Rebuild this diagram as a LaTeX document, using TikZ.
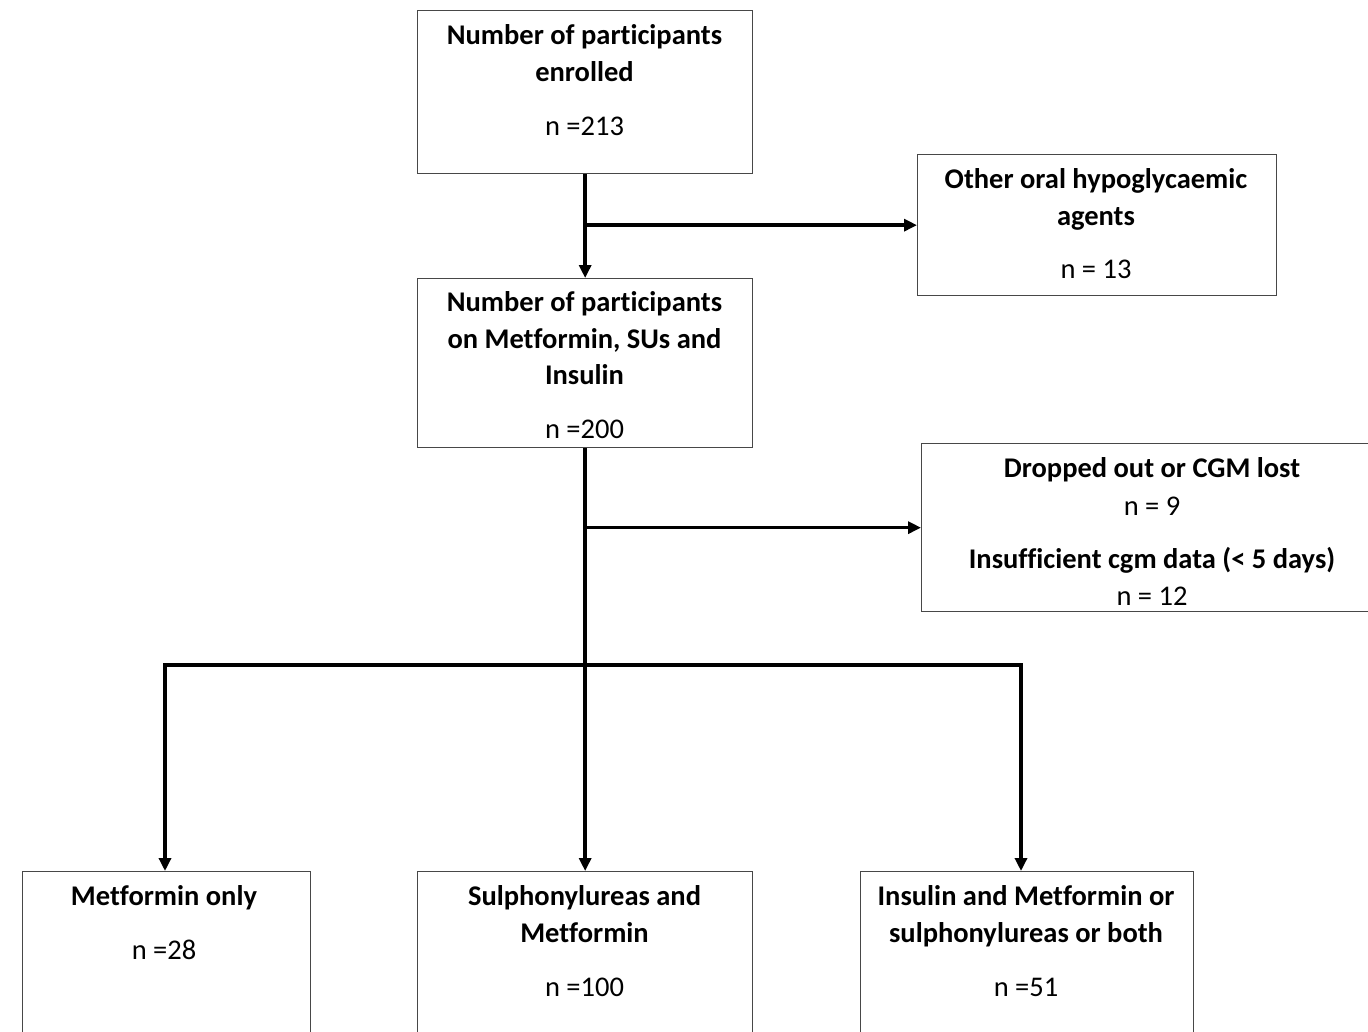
\documentclass[tikz,border=0pt]{standalone}
\usepackage{fontspec}
\setmainfont{Carlito}[RawFeature=-liga]
\usetikzlibrary{arrows.meta}
\begin{document}
\begin{tikzpicture}[x=1pt,y=-1pt,
  box/.style={draw=black!72,line width=1.3pt,rectangle,inner sep=0pt,anchor=north west},
  hd/.style={anchor=base,inner sep=0pt,font=\fontsize{28.5}{34}\selectfont\bfseries},
  nn/.style={anchor=base,inner sep=0pt,font=\fontsize{28.5}{34}\selectfont},
  conn/.style={line width=3.6pt,-{Triangle[length=13pt,width=12pt]}},
  seg/.style={line width=3.6pt}]
\useasboundingbox (0,0) rectangle (1368,1031);
\clip (0,0) rectangle (1368,1031);
\fill[white] (0,0) rectangle (1368,1031);
% boxes
\node[box,minimum width=335pt,minimum height=163pt] (b1) at (417,10) {};
\node[box,minimum width=359pt,minimum height=141pt] (b2) at (917,154) {};
\node[box,minimum width=335pt,minimum height=169pt] (b3) at (417,278) {};
\node[box,minimum width=470pt,minimum height=168pt] (b4) at (921,443) {};
\node[box,minimum width=288pt,minimum height=220pt] (b5) at (22,871) {};
\node[box,minimum width=335pt,minimum height=220pt] (b6) at (417,871) {};
\node[box,minimum width=333pt,minimum height=220pt] (b7) at (860,871) {};
% texts
\node[hd] (t1a) at (584.5,44) {Number of participants};
\node[hd] (t1b) at (584.5,81) {enrolled};
\node[nn] (t1c) at (584.5,135) {n =213};
\node[hd] (t2a) at (1096,188) {Other oral hypoglycaemic};
\node[hd] (t2b) at (1096,225) {agents};
\node[nn] (t2c) at (1096,278) {n = 13};
\node[hd] (t3a) at (584.5,311) {Number of participants};
\node[hd] (t3b) at (584.5,348) {on Metformin, SUs and};
\node[hd] (t3c) at (584.5,384) {Insulin};
\node[nn] (t3d) at (584.5,438) {n =200};
\node[hd] (t4a) at (1152,477) {Dropped out or CGM lost};
\node[nn] (t4b) at (1152,515) {n = 9};
\node[hd] (t4c) at (1152,568) {Insufficient cgm data (< 5 days)};
\node[nn] (t4d) at (1152,605) {n = 12};
\node[hd] (t5a) at (164,905) {Metformin only};
\node[nn] (t5b) at (164,959) {n =28};
\node[hd] (t6a) at (584.5,905) {Sulphonylureas and};
\node[hd] (t6b) at (584.5,942) {Metformin};
\node[nn] (t6c) at (584.5,996) {n =100};
\node[hd] (t7a) at (1026,905) {Insulin and Metformin or};
\node[hd] (t7b) at (1026,942) {sulphonylureas or both};
\node[nn] (t7c) at (1026,996) {n =51};
% connectors
\draw[conn] (b1.south) -- (b3.north);
\draw[conn] (b1.south |- b2.west) -- (b2.west);
\draw[conn] (b3.south) -- (b6.north);
\draw[conn] (b3.south |- b4.west) -- (b4.west);
\coordinate (jl) at (165,665);
\coordinate (jr) at (1021,665);
\draw[seg] ([xshift=-1.8pt]jl) -- ([xshift=1.8pt]jr);
\draw[conn] ([yshift=-1.8pt]jl) -- (jl |- b5.north);
\draw[conn] ([yshift=-1.8pt]jr) -- (jr |- b7.north);
\end{tikzpicture}
\end{document}
